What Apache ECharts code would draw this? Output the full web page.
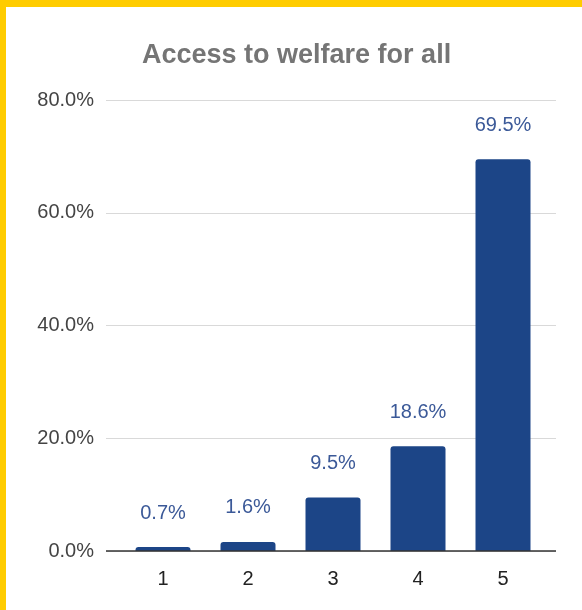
<!DOCTYPE html>
<html>
<head>
<meta charset="utf-8">
<script src="https://cdn.jsdelivr.net/npm/echarts@6/dist/echarts.min.js"></script>
<style>
  html, body { margin: 0; padding: 0; background: #fff; }
  #wrap { position: relative; width: 582px; height: 610px; }
  #chart { position: absolute; left: 0; top: 0; width: 582px; height: 610px; }
  #frame { position: absolute; left: 0; top: 0; width: 576px; height: 603px;
           border-top: 7px solid #ffcc00; border-left: 6px solid #ffcc00; pointer-events: none; }
</style>
</head>
<body>
<div id="wrap">
  <div id="chart"></div>
  <div id="frame"></div>
</div>
<script>
// Survey answers on a 1-5 scale, share of respondents (%)
const categories = ['1', '2', '3', '4', '5'];
const shares = [0.7, 1.6, 9.5, 18.6, 69.5];
const yTicks = [0, 20, 40, 60, 80];

const chart = echarts.init(document.getElementById('chart'));
const BLUE = '#1c4587';
const FONT = '"Liberation Sans", Arial, sans-serif';

chart.setOption({
  animation: false,
  title: {
    text: 'Access to welfare for all',
    left: 137,
    top: 37,
    textStyle: { fontFamily: FONT, fontSize: 27, fontWeight: 'bold', color: '#757575' }
  },
  grid: [
    // full-width grid carrying the value axis and gridlines
    { left: 106, right: 26, top: 100, bottom: 59 },
    // inner grid holding the bars
    { left: 120.5, right: 36.5, top: 100, bottom: 59 }
  ],
  xAxis: [
    { gridIndex: 0, type: 'category', data: [''], show: false },
    {
      gridIndex: 1, type: 'category', data: categories,
      axisLine: { show: false },
      axisTick: { show: false },
      axisLabel: { fontFamily: FONT, fontSize: 20, color: '#222', margin: 18 }
    }
  ],
  yAxis: [
    {
      gridIndex: 0, type: 'value', min: yTicks[0], max: yTicks[yTicks.length - 1], interval: 20,
      axisLine: { show: false },
      axisTick: { show: false },
      splitLine: { lineStyle: { color: '#d9d9d9', width: 1 } },
      axisLabel: {
        fontFamily: FONT, fontSize: 20, color: '#444', margin: 12,
        formatter: v => v.toFixed(1) + '%'
      }
    },
    {
      gridIndex: 1, type: 'value', min: yTicks[0], max: yTicks[yTicks.length - 1], interval: 20,
      show: false
    }
  ],
  series: [
    {
      type: 'bar',
      xAxisIndex: 1, yAxisIndex: 1,
      data: shares,
      barWidth: 55,
      itemStyle: { color: BLUE, borderRadius: [3, 3, 0, 0] },
      label: {
        show: true, position: 'top', distance: 24,
        fontFamily: FONT, fontSize: 20, color: '#3b5998',
        formatter: p => p.value.toFixed(1) + '%'
      }
    },
    {
      // baseline across the full width
      type: 'line', xAxisIndex: 0, yAxisIndex: 0, data: [],
      markLine: {
        silent: true, symbol: 'none', label: { show: false },
        lineStyle: { color: '#333', width: 1.5, type: 'solid' },
        data: [{ yAxis: 0 }]
      }
    }
  ]
});
</script>
</body>
</html>
